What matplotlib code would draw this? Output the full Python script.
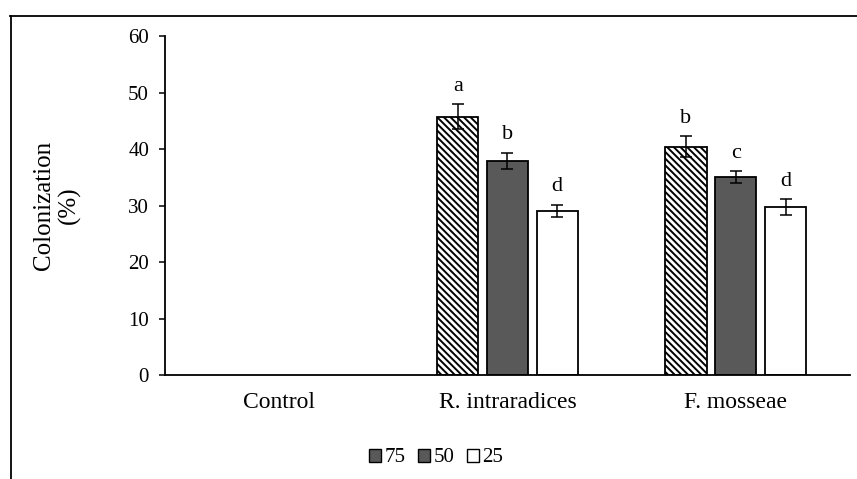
import matplotlib as mpl
mpl.use('Agg')
import matplotlib.pyplot as plt
from matplotlib.patches import Patch
from matplotlib.lines import Line2D
import numpy as np

plt.rcParams['font.family'] = ['Liberation Serif', 'DejaVu Serif']
plt.rcParams['hatch.linewidth'] = 1.4

groups = ['Control', 'R. intraradices', 'F. mosseae']
levels = ['75', '50', '25']
# colonization (%) per level, one value per group
vals_75 = [0, 45.7, 40.4]
vals_50 = [0, 37.9, 35.0]
vals_25 = [0, 29.0, 29.7]
err_75 = [0, 2.2, 1.9]
err_50 = [0, 1.4, 1.1]
err_25 = [0, 1.1, 1.4]
let_75 = ['', 'a', 'b']
let_50 = ['', 'b', 'c']
let_25 = ['', 'd', 'd']

fig = plt.figure(figsize=(8.57, 4.79), dpi=100)
ax = fig.add_axes([0.1925, 0.2171, 0.7993, 0.7077])

x = np.arange(len(groups))
w = 0.18
step = 0.218
series = [(vals_75, err_75, let_75, '\\' * 5, 'white'),
          (vals_50, err_50, let_50, None, '#595959'),
          (vals_25, err_25, let_25, None, 'white')]

for i, (v, e, lets, hatch, fc) in enumerate(series):
    pos = x + (i - 1) * step
    for j in range(len(groups)):
        if v[j] == 0:
            continue
        ax.bar(pos[j], v[j], width=w, color=fc, edgecolor='black', linewidth=1.3,
               hatch=hatch)
        ax.errorbar(pos[j], v[j], yerr=e[j], color='black', capsize=4.5,
                    elinewidth=1.1, capthick=1.1)
        ax.text(pos[j], v[j] + e[j] + 1.5, lets[j], ha='center', va='bottom',
                fontsize=16)

ax.set_xlim(-0.5, 2.5)
ax.set_ylim(0, 60)
ax.set_yticks(range(0, 61, 10))
ax.set_xticks(x)
ax.set_xticklabels(groups, fontsize=17)
ax.tick_params(axis='x', length=0, pad=12)
ax.tick_params(axis='y', labelsize=15, length=4.5, width=1.1, pad=7)
for s in ['top', 'right']:
    ax.spines[s].set_visible(False)
ax.spines['left'].set_linewidth(1.3)
ax.spines['bottom'].set_linewidth(1.3)
ax.set_ylabel('Colonization\n(%)', fontsize=18, labelpad=34, linespacing=1.15)

handles = [Patch(facecolor='#595959', edgecolor='black'),
           Patch(facecolor='#595959', edgecolor='black'),
           Patch(facecolor='white', edgecolor='black')]
fig.legend(handles, levels, loc='center', bbox_to_anchor=(436 / 857, 1 - 458 / 479),
           ncol=3, frameon=False, fontsize=15, handlelength=0.6, handleheight=0.6,
           handletextpad=0.15, columnspacing=0.6)

# outer frame (top and left edges)
fig.add_artist(Line2D([10 / 857, 1], [1 - 16 / 479] * 2, color='black', lw=1.3))
fig.add_artist(Line2D([11 / 857] * 2, [0, 1 - 16 / 479], color='black', lw=1.3))

plt.savefig('out.png', dpi=100)
